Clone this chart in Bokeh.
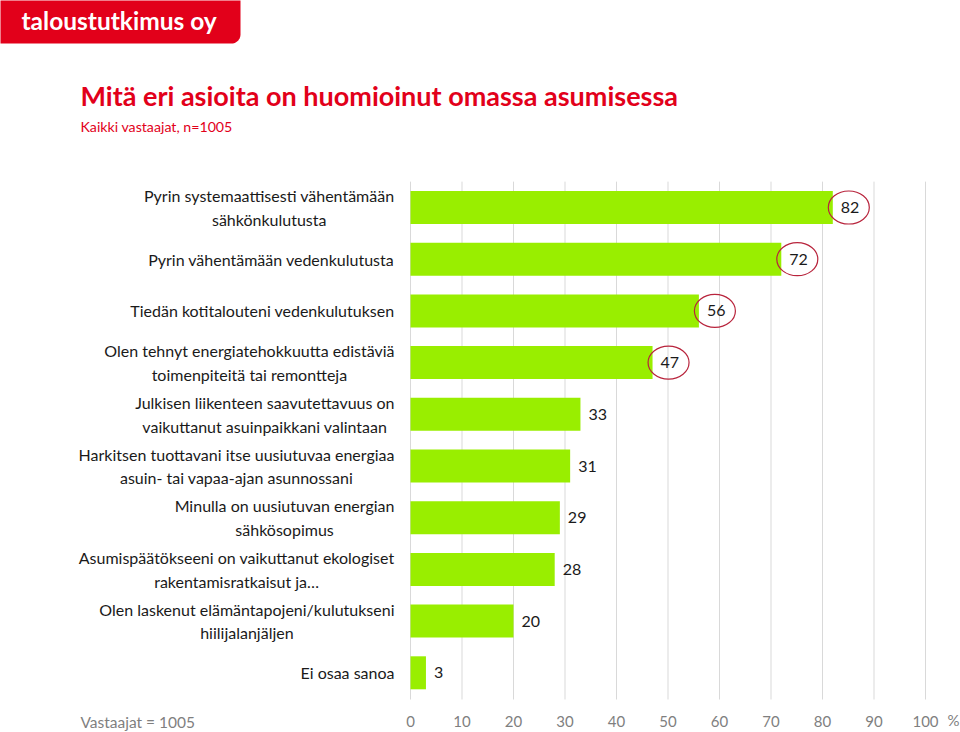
import numpy as np
from bokeh.plotting import figure
from bokeh.models import Range1d
from bokeh.core.properties import value
from bokeh.embed import file_html
from bokeh.resources import INLINE

# ---------------- data ----------------
categories = [
    "Pyrin systemaattisesti vähentämään\nsähkönkulutusta",
    "Pyrin vähentämään vedenkulutusta",
    "Tiedän kotitalouteni vedenkulutuksen",
    "Olen tehnyt energiatehokkuutta edistäviä\ntoimenpiteitä tai remontteja",
    "Julkisen liikenteen saavutettavuus on\nvaikuttanut asuinpaikkani valintaan",
    "Harkitsen tuottavani itse uusiutuvaa energiaa\nasuin- tai vapaa-ajan asunnossani",
    "Minulla on uusiutuvan energian\nsähkösopimus",
    "Asumispäätökseeni on vaikuttanut ekologiset\nrakentamisratkaisut ja…",
    "Olen laskenut elämäntapojeni/kulutukseni\nhiilijalanjäljen",
    "Ei osaa sanoa",
]
values = [82, 72, 56, 47, 33, 31, 29, 28, 20, 3]
highlighted = [True, True, True, True, False, False, False, False, False, False]
x_ticks = [0, 10, 20, 30, 40, 50, 60, 70, 80, 90, 100]
x_tick_labels = ["0", "10", "20", "30", "40", "50", "60", "70", "80", "90", "100"]
title_text = "Mitä eri asioita on huomioinut omassa asumisessa"
subtitle_text = "Kaikki vastaajat, n=1005"
footnote_text = "Vastaajat = 1005"
unit_text = "%"
brand_text = "taloustutkimus oy"

# ---------------- geometry (page pixels) ----------------
W, H = 960, 732
X0_PX = 410.0          # page x of value 0
PX_PER_UNIT = 5.15     # pixels per percentage point
ROW0_PX = 207.0        # page y of first category centre
ROW_PX = 51.7          # pixels per category
GRID_BOTTOM_PX = 699


def X(px):
    return (px - X0_PX) / PX_PER_UNIT


def Y(py):
    return (py - ROW0_PX) / ROW_PX


FONT = "Lato"
RED = "#E2001A"
GREEN = "#99EE00"
GRAY = "#7F7F7F"

p = figure(
    width=W, height=H,
    x_range=Range1d(X(0), X(W)),
    y_range=Range1d(Y(H), Y(0)),
    output_backend="svg", toolbar_location=None,
    min_border=0,
    x_axis_location=None, y_axis_location=None,
)
p.outline_line_color = None
p.xgrid.visible = False
p.ygrid.visible = False
p.background_fill_color = "white"
p.border_fill_color = "white"

idx = list(range(len(categories)))
y_top = -0.5
y_bot = Y(GRID_BOTTOM_PX)

# grid lines
p.segment(x0=x_ticks, y0=[y_top] * len(x_ticks), x1=x_ticks, y1=[y_bot] * len(x_ticks),
          line_color="#D9D9D9", line_width=1)

# bars
p.hbar(y=idx, left=0, right=values, height=33 / ROW_PX, fill_color=GREEN, line_color=None)

# value labels
p.text(x=values, y=idx, text=[str(v) for v in values], x_offset=8,
       text_align="left", text_baseline="middle",
       text_font=value(FONT), text_font_size=value("16px"), text_color="#1A1A1A")

# highlight ellipses
hx = [v + 16 / PX_PER_UNIT for v, h in zip(values, highlighted) if h]
hy = [i for i, h in zip(idx, highlighted) if h]
p.ellipse(x=hx, y=hy, width=41, height=33, width_units="screen", height_units="screen",
          fill_color=None, line_color="#B8243C", line_width=1.2)

# category labels
p.text(x=[X(394)] * len(categories), y=idx, text=categories,
       anchor=value("center_right"), text_align="center", text_baseline="middle",
       text_line_height=1.25,
       text_font=value(FONT), text_font_size=value("16px"), text_color="#1A1A1A")

# x tick labels (value axis)
p.text(x=x_ticks, y=[Y(721)] * len(x_ticks), text=x_tick_labels,
       text_align="center", text_baseline="middle",
       text_font=value(FONT), text_font_size=value("15px"), text_color=GRAY)
p.text(x=[X(953)], y=[Y(719)], text=[unit_text], text_align="center", text_baseline="middle",
       text_font=value(FONT), text_font_size=value("15px"), text_color=GRAY)
p.text(x=[X(80)], y=[Y(721)], text=[footnote_text], text_align="left", text_baseline="middle",
       text_font=value(FONT), text_font_size=value("15.5px"), text_color=GRAY)

# logo
r = 9
ang = np.linspace(0, np.pi / 2, 12)
lx = [-5, 240] + list(240 - r + r * np.cos(ang)) + [-5]
ly = [-5, -5] + list(43 - r + r * np.sin(ang)) + [43]
p.patch(x=[X(v) for v in lx], y=[Y(v) for v in ly], fill_color=RED, line_color=None)
p.text(x=[X(21)], y=[Y(20)], text=[brand_text], text_align="left", text_baseline="middle",
       text_font=value(FONT), text_font_style="bold", text_font_size=value("24.5px"),
       text_color="white")

# title / subtitle
p.text(x=[X(80)], y=[Y(95)], text=[title_text], text_align="left", text_baseline="middle",
       text_font=value(FONT), text_font_style="bold", text_font_size=value("27px"),
       text_color=RED)
p.text(x=[X(80)], y=[Y(126)], text=[subtitle_text], text_align="left", text_baseline="middle",
       text_font=value(FONT), text_font_size=value("14.2px"), text_color=RED)

open("out.html", "w").write(file_html(p, INLINE))
